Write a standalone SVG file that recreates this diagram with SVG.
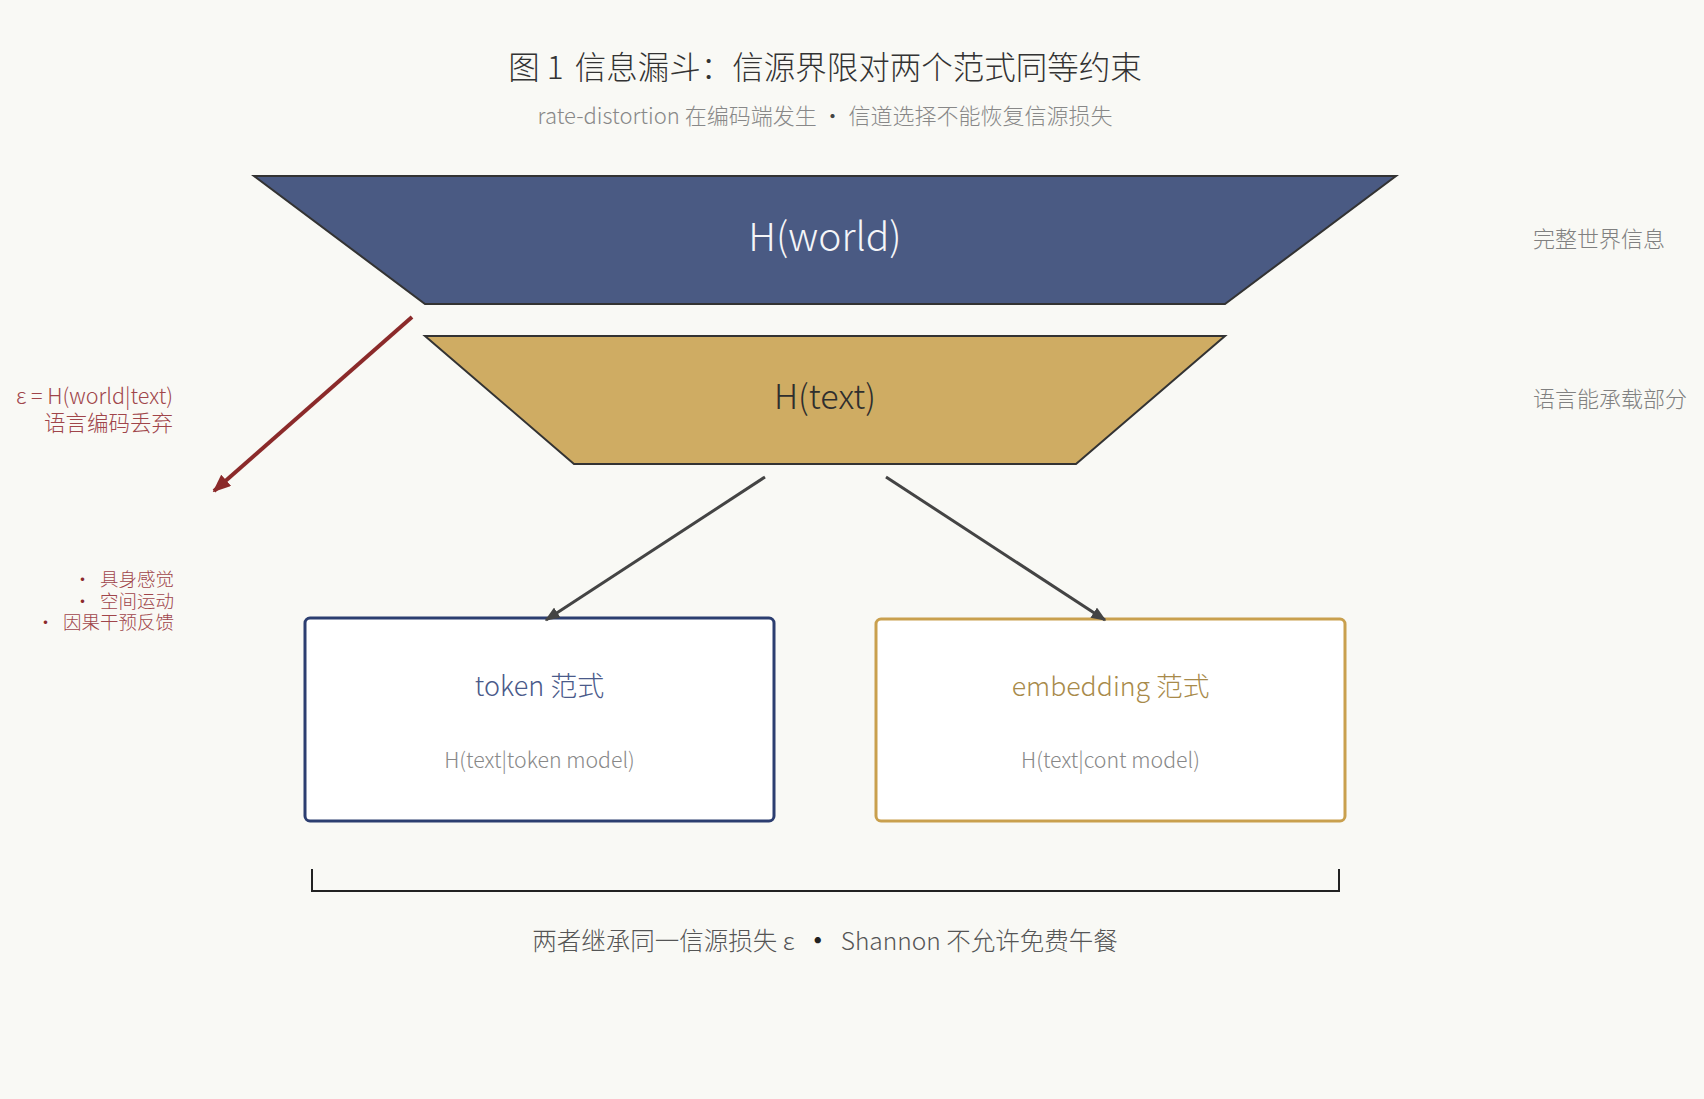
<svg xmlns="http://www.w3.org/2000/svg" width="1704" height="1099" viewBox="0 0 1704 1099">
<defs>
<style>
text{font-family:"Noto Sans CJK SC","Noto Sans",sans-serif;font-weight:300}
.title{font-size:31.5px;fill:#333;text-anchor:middle}
.sub{font-size:22px;fill:#888;text-anchor:middle}
.side{font-size:22px;fill:#808080}
.red{fill:#a0454a;text-anchor:end}
.trap{stroke:#333;stroke-width:2}
.box{fill:#fff;stroke-width:3}
.conn{stroke:#444;stroke-width:3;fill:none}
</style>
<marker id="ah" viewBox="0 0 10 10" refX="9" refY="5" markerUnits="userSpaceOnUse" markerWidth="15" markerHeight="12" orient="auto" preserveAspectRatio="none">
<path d="M0,0 L10,5 L0,10 z" fill="#444"/>
</marker>
<marker id="ahr" viewBox="0 0 10 10" refX="9" refY="5" markerUnits="userSpaceOnUse" markerWidth="18" markerHeight="15" orient="auto" preserveAspectRatio="none">
<path d="M0,0 L10,5 L0,10 z" fill="#8b2a2a"/>
</marker>
</defs>
<rect x="0" y="0" width="1704" height="1099" fill="#f9f9f5"/>

<g id="header">
<text class="title" x="825" y="79" xml:space="preserve">图 1 <tspan dx="4">信息漏斗：信源界限对两个范式同等约束</tspan></text>
<text class="sub" x="825" y="124" xml:space="preserve">rate-distortion 在编码端发生 <tspan fill="#444">·</tspan> 信道选择不能恢复信源损失</text>
</g>

<g id="world">
<polygon class="trap" points="254,176 1396,176 1225,304 425,304" fill="#4a5a83"/>
<text x="825" y="251" font-size="39" fill="#f4f5f8" text-anchor="middle">H(world)</text>
</g>

<g id="text-layer">
<polygon class="trap" points="425,336 1225,336 1076,464 574,464" fill="#cfac63"/>
<text x="825" y="409" font-size="34" fill="#2e2e2e" text-anchor="middle">H(text)</text>
</g>

<g id="side-labels">
<text class="side" x="1533" y="247">完整世界信息</text>
<text class="side" x="1533" y="407">语言能承载部分</text>
</g>

<g id="loss-label">
<text class="red" x="173" y="404" font-size="21.5">ε = H(world|text)</text>
<text class="red" x="173" y="431" font-size="21.5">语言编码丢弃</text>
</g>

<g id="loss-list">
<text class="red" x="174" y="586" font-size="18.5" xml:space="preserve"><tspan fill="#8b2a2a">·</tspan>  具身感觉</text>
<text class="red" x="174" y="607.5" font-size="18.5" xml:space="preserve"><tspan fill="#8b2a2a">·</tspan>  空间运动</text>
<text class="red" x="174" y="629" font-size="18.5" xml:space="preserve"><tspan fill="#8b2a2a">·</tspan>  因果干预反馈</text>
</g>

<g id="token">
<rect class="box" x="305" y="618" width="469" height="203" rx="5" stroke="#2c3e70"/>
<text x="539.5" y="696" font-size="27" fill="#4a5a8a" text-anchor="middle">token 范式</text>
<text x="539.5" y="768" font-size="21.3" fill="#888" text-anchor="middle">H(text|token model)</text>
</g>

<g id="embedding">
<rect class="box" x="876" y="619" width="469" height="202" rx="5" stroke="#c9a04e"/>
<text x="1110.5" y="696" font-size="26.7" fill="#a88a4a" text-anchor="middle">embedding 范式</text>
<text x="1110.5" y="768" font-size="21.3" fill="#888" text-anchor="middle">H(text|cont model)</text>
</g>

<g id="connectors">
<line x1="412" y1="317" x2="214" y2="491" stroke="#8b2a2a" stroke-width="4" marker-end="url(#ahr)"/>
<line class="conn" x1="765" y1="477" x2="546" y2="620" marker-end="url(#ah)"/>
<line class="conn" x1="886" y1="477" x2="1105" y2="620" marker-end="url(#ah)"/>
<path d="M312,869 V891 H1339 V869" fill="none" stroke="#222" stroke-width="2"/>
</g>

<g id="footer">
<text x="825" y="950" font-size="24.5" fill="#555" text-anchor="middle" xml:space="preserve">两者继承同一信源损失 ε  <tspan fill="#222" font-weight="700">·</tspan>  Shannon 不允许免费午餐</text>
</g>
</svg>
